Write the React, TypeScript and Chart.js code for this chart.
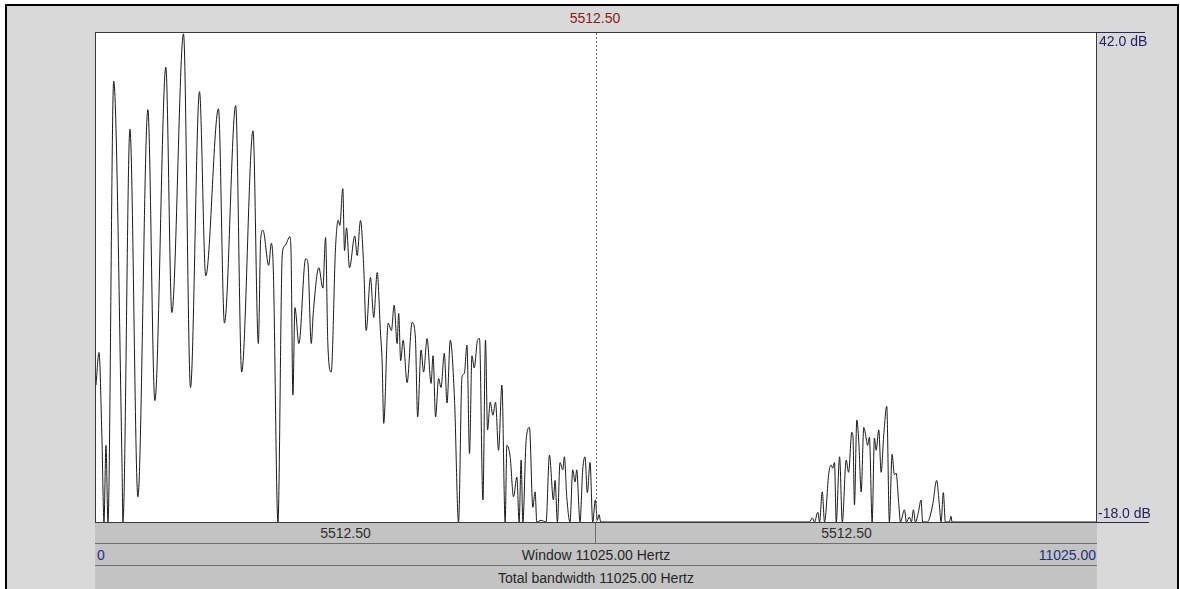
import React, { useEffect, useRef } from "react";
import { Chart, registerables } from "chart.js";

Chart.register(...registerables);

// Spectrum: frequency (Hz) and level (dB)
const freqsHz = [
  0, 33, 66, 88, 110, 132, 195, 286, 297, 374,
  462, 572, 649, 770, 836, 965, 1042, 1141, 1210, 1350,
  1416, 1540, 1606, 1731, 1790, 1816, 1841, 1904, 1933, 1955,
  2006, 2054, 2083, 2138, 2151, 2171, 2193, 2237, 2311, 2336,
  2373, 2395, 2457, 2501, 2531, 2556, 2593, 2641, 2670, 2688,
  2721, 2740, 2762, 2795, 2853, 2879, 2916, 2952, 2979, 3026,
  3062, 3100, 3136, 3155, 3172, 3221, 3257, 3287, 3320, 3337,
  3359, 3386, 3430, 3485, 3521, 3546, 3584, 3612, 3650, 3694,
  3716, 3744, 3777, 3804, 3840, 3870, 3906, 3953, 3997, 4035,
  4060, 4090, 4118, 4145, 4170, 4206, 4228, 4266, 4294, 4317,
  4346, 4376, 4405, 4438, 4475, 4511, 4530, 4566, 4603, 4640,
  4665, 4687, 4706, 4742, 4779, 4816, 4841, 4860, 4907, 4962,
  4999, 5043, 5061, 5087, 5116, 5146, 5164, 5190, 5226, 5256,
  5282, 5300, 5336, 5366, 5391, 5417, 5447, 5476, 5505, 5527,
  5546, 5565, 7867, 7897, 7922, 7958, 7977, 8007, 8032, 8080,
  8106, 8121, 8142, 8161, 8198, 8228, 8271, 8297, 8333, 8346,
  8362, 8388, 8410, 8436, 8465, 8491, 8506, 8527, 8557, 8582,
  8601, 8630, 8656, 8685, 8718, 8747, 8777, 8802, 8821, 8850,
  8869, 8913, 8935, 8968, 8990, 9012, 9034, 9067, 9096, 9114,
  9166, 9224, 9268, 9298, 9317, 9342, 9364, 9408, 9427, 9438,
  11025,
];

const levelsDb = [
  -1.2, 2.8, -8.0, -18, -8.6, -18, 36.1, -10.4, -18, 30.2,
  -14.9, 32.6, -3.1, 37.8, 7.7, 41.9, -1.5, 34.8, 12.2, 32.7,
  6.4, 33.1, 0.4, 30.0, 3.9, 16.8, 17.8, 13.5, 16.2, 12.9,
  -18, 14.9, 15.9, 17.0, 14.7, -2.4, 8.3, 3.9, 14.3, 13.8,
  3.9, 7.6, 13.2, 10.7, 16.9, 3.9, 0.4, 15.7, 19.0, 18.4,
  22.9, 15.3, 18.1, 13.2, 17.1, 14.7, 19.0, 13.2, 5.5, 12.0,
  7.1, 12.6, 5.3, 1.5, -5.9, 6.4, 5.5, 8.6, 3.9, 7.6,
  1.8, 4.3, -0.9, 6.5, 4.7, -5.1, 3.1, 0.4, 4.5, -1.0,
  2.4, -5.1, -0.4, -1.5, 2.7, -3.4, 4.3, -3.1, -18, -0.2,
  0.2, 3.7, -9.6, 2.4, 0.9, 4.3, 4.5, -15.3, 4.3, -6.7,
  -3.3, -4.9, -3.3, -9.2, -1.2, -18, -8.6, -10.0, -14.9, -12.5,
  -18, -10.4, -18, -8.0, -6.4, -16.2, -14.3, -18, -17.8, -18,
  -9.8, -15.3, -12.9, -18, -10.7, -11.6, -10.0, -14.9, -18, -11.6,
  -13.1, -11.6, -18, -11.6, -10.0, -14.4, -10.7, -18, -15.3, -17.8,
  -17.1, -18, -18, -17.5, -18, -16.8, -18, -14.3, -18, -11.9,
  -11.0, -11.4, -10.7, -18, -10.0, -18, -10.4, -11.9, -7.0, -7.6,
  -15.9, -5.5, -8.2, -14.3, -6.4, -7.7, -8.6, -7.6, -18, -7.7,
  -9.2, -6.7, -11.9, -7.3, -3.8, -18, -9.7, -12.2, -12.0, -15.7,
  -18, -16.5, -18, -17.4, -18, -16.5, -18, -16.8, -15.3, -18,
  -18, -15.9, -12.9, -15.9, -18, -14.4, -18, -18, -17.3, -18,
  -18,
];

const dbMin = -18;
const dbMax = 42;
const freqMin = 0;
const freqMax = 11025;
const cursorHz = 5512.5;

const cursorLabel = "5512.50";
const halfLabels = ["5512.50", "5512.50"];
const windowStartLabel = "0";
const windowLabel = "Window 11025.00 Hertz";
const windowEndLabel = "11025.00";
const totalLabel = "Total bandwidth 11025.00 Hertz";
const topDbLabel = "42.0 dB";
const bottomDbLabel = "-18.0 dB";

const FONT = '"Liberation Sans", Arial, sans-serif';

const framePlugin = {
  id: "framePlugin",
  beforeDraw(chart: any) {
    const { ctx, width, height } = chart;
    ctx.save();
    ctx.fillStyle = "#ffffff";
    ctx.fillRect(0, 0, width, height);
    ctx.restore();
  },
  afterDraw(chart: any) {
    const { ctx, width, height, chartArea } = chart;
    const xs = chart.scales.x;
    const x = Math.round(xs.getPixelForValue(cursorHz)) + 0.5;
    ctx.save();
    ctx.strokeStyle = "#6a6a6a";
    ctx.lineWidth = 1;
    ctx.setLineDash([2, 2]);
    ctx.beginPath();
    ctx.moveTo(x, chartArea.top);
    ctx.lineTo(x, chartArea.bottom);
    ctx.stroke();
    ctx.setLineDash([]);
    ctx.strokeStyle = "#3a3a3a";
    ctx.strokeRect(0.5, 0.5, width - 1, height - 1);
    ctx.restore();
  },
};

export default function App() {
  const ref = useRef<HTMLCanvasElement>(null);

  useEffect(() => {
    document.body.style.margin = "0";
    const data = freqsHz.map((f, i) => ({ x: f, y: levelsDb[i] }));
    const chart = new Chart(ref.current as HTMLCanvasElement, {
      type: "line",
      data: {
        datasets: [
          {
            data,
            borderColor: "#1a1a1a",
            borderWidth: 1,
            pointRadius: 0,
            cubicInterpolationMode: "monotone",
            fill: false,
          },
        ],
      },
      options: {
        animation: false,
        responsive: false,
        devicePixelRatio: 1,
        layout: { padding: 1 },
        plugins: { legend: { display: false }, tooltip: { enabled: false } },
        scales: {
          x: { type: "linear", min: freqMin, max: freqMax, display: false },
          y: { type: "linear", min: dbMin, max: dbMax, display: false },
        },
      },
      plugins: [framePlugin],
    });
    return () => chart.destroy();
  }, []);

  const barBase: React.CSSProperties = {
    position: "absolute",
    left: 95,
    width: 1002,
    background: "#c3c3c3",
    borderBottom: "1px solid #6e6e6e",
    boxSizing: "border-box",
    fontSize: 14,
    color: "#2e2e2e",
  };

  return (
    <div
      style={{
        position: "fixed",
        left: 0,
        top: 0,
        width: 1180,
        height: 589,
        background: "#ffffff",
        overflow: "hidden",
        fontFamily: FONT,
      }}
    >
      <div
        style={{
          position: "absolute",
          left: 5,
          top: 4,
          width: 1170,
          height: 620,
          background: "#d9d9d9",
          borderTop: "2px solid #000",
          borderLeft: "2px solid #000",
          borderRight: "2px solid #000",
        }}
      />
      <div
        style={{
          position: "absolute",
          left: 495,
          width: 200,
          top: 10,
          textAlign: "center",
          fontSize: 14,
          color: "#8b1c1c",
        }}
      >
        {cursorLabel}
      </div>
      <canvas
        ref={ref}
        width={1002}
        height={491}
        style={{ position: "absolute", left: 95, top: 32, width: 1002, height: 491 }}
      />
      {/* dB level lines extending into margin */}
      <div style={{ position: "absolute", left: 1096, top: 32, width: 49, height: 1, background: "#2a2a50" }} />
      <div style={{ position: "absolute", left: 1096, top: 522, width: 53, height: 1, background: "#2a2a50" }} />
      <div style={{ position: "absolute", left: 1099, top: 33, fontSize: 14, color: "#23235e" }}>{topDbLabel}</div>
      <div style={{ position: "absolute", left: 1098, top: 505, fontSize: 14, color: "#23235e" }}>{bottomDbLabel}</div>

      {/* row 1 */}
      <div style={{ ...barBase, top: 523, height: 21 }}>
        <div style={{ position: "absolute", left: 500, top: 0, width: 1, height: 20, background: "#6e6e6e" }} />
        <div style={{ position: "absolute", left: 0, width: 501, top: 2, textAlign: "center" }}>{halfLabels[0]}</div>
        <div style={{ position: "absolute", left: 501, width: 501, top: 2, textAlign: "center" }}>{halfLabels[1]}</div>
      </div>
      {/* row 2 */}
      <div style={{ ...barBase, top: 544, height: 22 }}>
        <div style={{ position: "absolute", left: 2, top: 3, color: "#2a2a8a" }}>{windowStartLabel}</div>
        <div style={{ position: "absolute", left: 0, width: 1002, top: 3, textAlign: "center", color: "#262626" }}>{windowLabel}</div>
        <div style={{ position: "absolute", right: 1, top: 3, color: "#2a2a8a" }}>{windowEndLabel}</div>
      </div>
      {/* row 3 */}
      <div style={{ ...barBase, top: 566, height: 24 }}>
        <div style={{ position: "absolute", left: 0, width: 1002, top: 4, textAlign: "center", color: "#262626" }}>{totalLabel}</div>
      </div>
    </div>
  );
}
